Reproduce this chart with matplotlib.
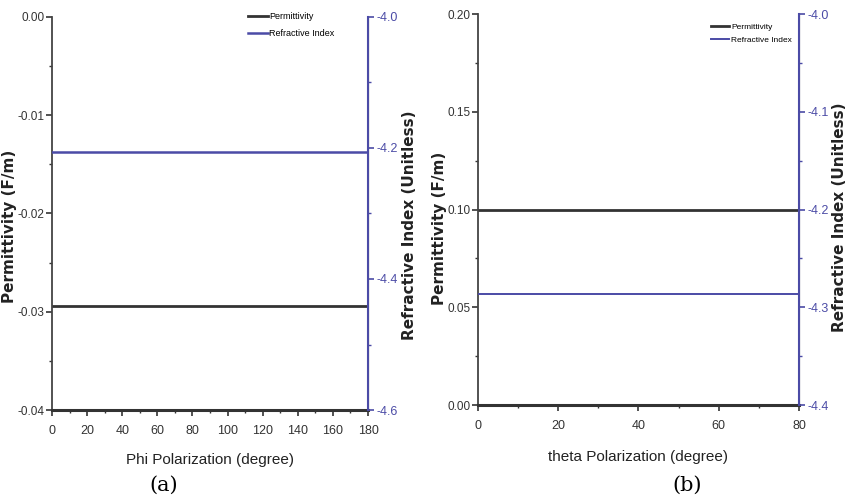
import matplotlib.pyplot as plt
from matplotlib.ticker import MultipleLocator

plt.rcParams['font.family'] = ['Liberation Sans Narrow', 'Liberation Sans', 'DejaVu Sans']

# panel (a): phi sweep
phi_deg = [0, 180]
perm_phi = [-0.0294, -0.0294]
ri_phi = [-4.206, -4.206]

# panel (b): theta sweep
theta_deg = [0, 80]
perm_theta = [0.100, 0.100]
ri_theta = [-4.286, -4.286]

BLACK = '#333333'
BLUE = '#4b4ba6'

fig = plt.figure(figsize=(8.47, 5.04), dpi=100)


def make_panel(rect, x, perm, ri, xlim, xmaj, ylim, ymaj, rlim, rmaj, xlabel, tag, tagx,
               legpos, legsize, legspace, lcoords, rcoords, xlpad, ri_lw):
    ax = fig.add_axes(rect)
    ax2 = ax.twinx()
    l1, = ax.plot(x, perm, color=BLACK, lw=2.0, label='Permittivity')
    l2, = ax2.plot(x, ri, color=BLUE, lw=ri_lw, label='Refractive Index')
    ax.set_xlim(*xlim)
    ax.set_ylim(*ylim)
    ax2.set_ylim(*rlim)
    ax.xaxis.set_major_locator(MultipleLocator(xmaj))
    ax.xaxis.set_minor_locator(MultipleLocator(xmaj / 2))
    ax.yaxis.set_major_locator(MultipleLocator(ymaj))
    ax.yaxis.set_minor_locator(MultipleLocator(ymaj / 2))
    ax2.yaxis.set_major_locator(MultipleLocator(rmaj))
    ax2.yaxis.set_minor_locator(MultipleLocator(rmaj / 2))
    ax.yaxis.set_major_formatter(lambda v, p: '%.2f' % v)
    ax2.yaxis.set_major_formatter(lambda v, p: '%.1f' % v)

    for a in (ax, ax2):
        a.spines['top'].set_visible(False)
    ax.spines['left'].set_color('#444444')
    ax.spines['bottom'].set_color(BLACK)
    ax.spines['bottom'].set_linewidth(2.2)
    ax.spines['left'].set_linewidth(1.3)
    ax2.spines['right'].set_color(BLUE)
    ax2.spines['right'].set_linewidth(1.5)
    ax2.spines['left'].set_visible(False)
    ax2.spines['bottom'].set_visible(False)

    ax.tick_params(axis='both', which='major', direction='out', length=4, width=1.2,
                   colors=BLACK, labelsize=9)
    ax.tick_params(axis='x', which='major', pad=7)
    ax.tick_params(axis='y', which='major', pad=1.5, labelsize=8.5)
    ax.tick_params(axis='both', which='minor', direction='out', length=2, width=1.0, colors=BLACK)
    ax2.tick_params(axis='y', which='major', direction='out', length=4, width=1.2,
                    colors=BLUE, labelsize=9, pad=2)
    ax2.tick_params(axis='y', which='minor', direction='out', length=2, width=1.0, colors=BLUE)

    ax.set_xlabel(xlabel, fontsize=11, color='#222222', labelpad=xlpad)
    ax.set_ylabel('Permittivity (F/m)', fontsize=11, fontweight='bold', color='#222222',
                  family='DejaVu Sans')
    ax2.set_ylabel('Refractive Index (Unitless)', fontsize=11, fontweight='bold', color='#222222',
                   family='DejaVu Sans')
    ax.yaxis.set_label_coords(*lcoords)
    ax2.yaxis.set_label_coords(*rcoords)

    ax.legend([l1, l2], ['Permittivity', 'Refractive Index'], loc='upper left',
              bbox_to_anchor=legpos, frameon=False, fontsize=legsize, handlelength=2.2,
              handletextpad=0.2, labelspacing=legspace, borderpad=0)
    fig.text(tagx, 0.0377, tag, fontsize=15, family='DejaVu Serif', ha='center', va='center')


make_panel([0.0614, 0.1865, 0.3731, 0.7798], phi_deg, perm_phi, ri_phi,
           (0, 180), 20, (-0.04, 0.0), 0.01, (-4.6, -4.0), 0.2,
           'Phi Polarization (degree)', '(a)', 0.193, (0.605, 1.025), 6.5, 0.9,
           (-0.112, 0.466), (1.108, 0.47), 11, 1.8)
make_panel([0.5643, 0.1964, 0.3790, 0.7758], theta_deg, perm_theta, ri_theta,
           (0, 80), 20, (0.0, 0.2), 0.05, (-4.4, -4.0), 0.1,
           'theta Polarization (degree)', '(b)', 0.811, (0.713, 0.987), 6, 0.6,
           (-0.097, 0.453), (1.103, 0.48), 13, 1.4)

fig.savefig('out.png', dpi=100)
